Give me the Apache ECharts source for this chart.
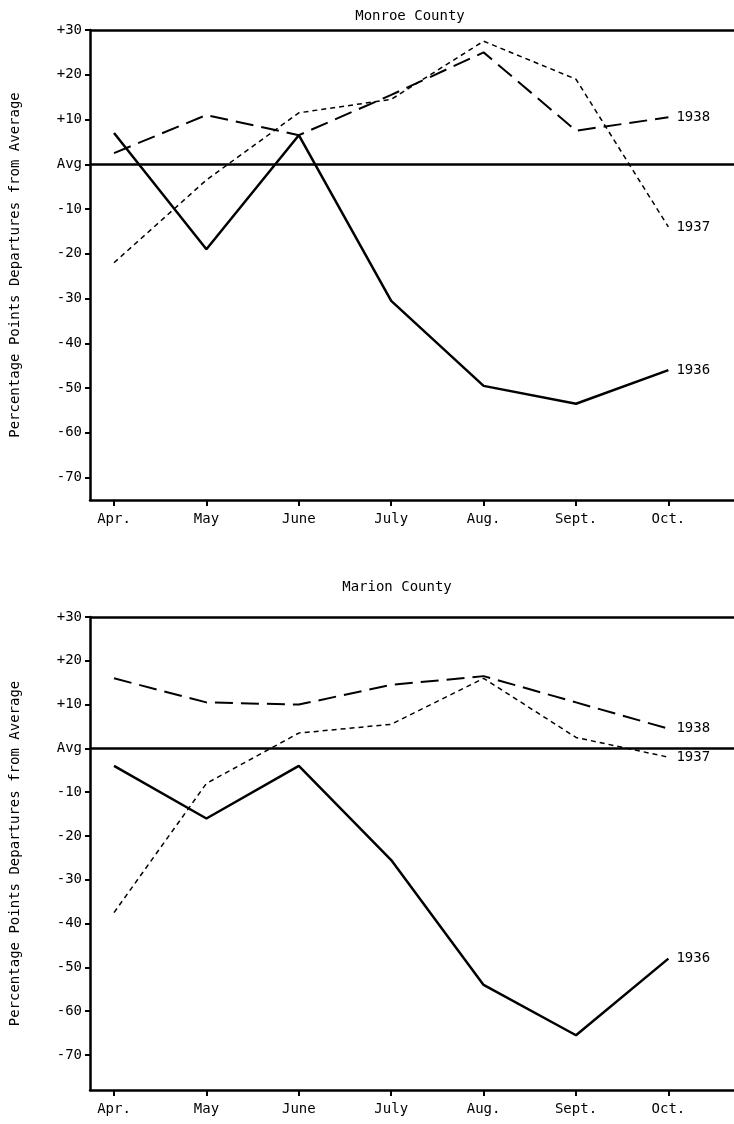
<!DOCTYPE html>
<html><head><meta charset="utf-8">
<script src="https://cdn.jsdelivr.net/npm/echarts@6/dist/echarts.min.js"></script>
<style>html,body{margin:0;padding:0;background:#fff}#c{width:734px;height:1124px}</style>
</head><body><div id="c"></div>
<script>
const months = ['Apr.','May','June','July','Aug.','Sept.','Oct.'];
const yTicks = [-70,-60,-50,-40,-30,-20,-10,0,10,20,30];
const monroe1936 = [7,-19,6.5,-30.5,-49.5,-53.5,-46];
const monroe1937 = [-22,-3.5,11.5,14.5,27.5,19,-14];
const monroe1938 = [2.5,11,6.5,15.5,25,7.5,10.5];
const marion1936 = [-4,-16,-4,-25.5,-54,-65.5,-48];
const marion1937 = [-37.5,-8,3.5,5.5,16,2.5,-2];
const marion1938 = [16,10.5,10,14.5,16.5,10.5,4.5];

const F = 'DejaVu Sans Mono, Liberation Mono, monospace';
const chart = echarts.init(document.getElementById('c'));
function pts(a){return a.map((v,i)=>[i,v]);}
function ser(idx,data,width,dash,label){
  return {type:'line',xAxisIndex:idx,yAxisIndex:idx,data:pts(data),symbol:'none',
    lineStyle:{color:'#000',width:width,type:dash},
    endLabel:{show:true,formatter:label,color:'#000',fontFamily:F,fontSize:14,distance:8},
    z:3};
}
const grids=[{left:88,top:30,width:646,height:470},{left:88,top:617,width:646,height:473}];
const xAxes=grids.map((g,i)=>({gridIndex:i,type:'value',min:-0.26,max:6.71,
  axisLine:{show:true,onZero:false,lineStyle:{color:'#000',width:2.5}},
  axisTick:{show:true,customValues:[0,1,2,3,4,5,6],length:6,lineStyle:{color:'#000',width:2}},
  axisLabel:{customValues:[0,1,2,3,4,5,6],formatter:v=>months[Math.round(v)],color:'#000',fontFamily:F,fontSize:14,margin:12},
  splitLine:{show:false}}));
const yAxes=grids.map((g,i)=>({gridIndex:i,type:'value',min:i?-78:-75,max:30,
  name:'Percentage Points Departures from Average',nameLocation:'middle',nameGap:68,
  nameTextStyle:{color:'#000',fontFamily:F,fontSize:14},
  axisLine:{show:true,onZero:false,lineStyle:{color:'#000',width:2.5}},
  axisTick:{show:true,customValues:yTicks,length:5,lineStyle:{color:'#000',width:2}},
  axisLabel:{customValues:yTicks,formatter:v=>v===0?'Avg':(v>0?'+'+v:String(v)),color:'#000',fontFamily:F,fontSize:14,margin:8},
  splitLine:{show:false}}));
const ml={silent:true,symbol:'none',label:{show:false},lineStyle:{color:'#000',width:2.5,type:'solid'},data:[{yAxis:0},{yAxis:30}]};
const s=[
 ser(0,monroe1936,2.5,'solid','1936'),
 ser(0,monroe1937,1.5,[5,4],'1937'),
 ser(0,monroe1938,2,[18,8],'1938'),
 ser(1,marion1936,2.5,'solid','1936'),
 ser(1,marion1937,1.5,[5,4],'1937'),
 ser(1,marion1938,2,[18,8],'1938')];
s[0].markLine=ml; s[3].markLine=ml;
chart.setOption({
  animation:false,
  title:[{text:'Monroe County',left:405,top:4,textAlign:'center',textStyle:{fontFamily:F,fontSize:14,fontWeight:'normal',color:'#000'}},
         {text:'Marion County',left:392,top:575,textAlign:'center',textStyle:{fontFamily:F,fontSize:14,fontWeight:'normal',color:'#000'}}],
  grid:grids,xAxis:xAxes,yAxis:yAxes,series:s
});
</script></body></html>
